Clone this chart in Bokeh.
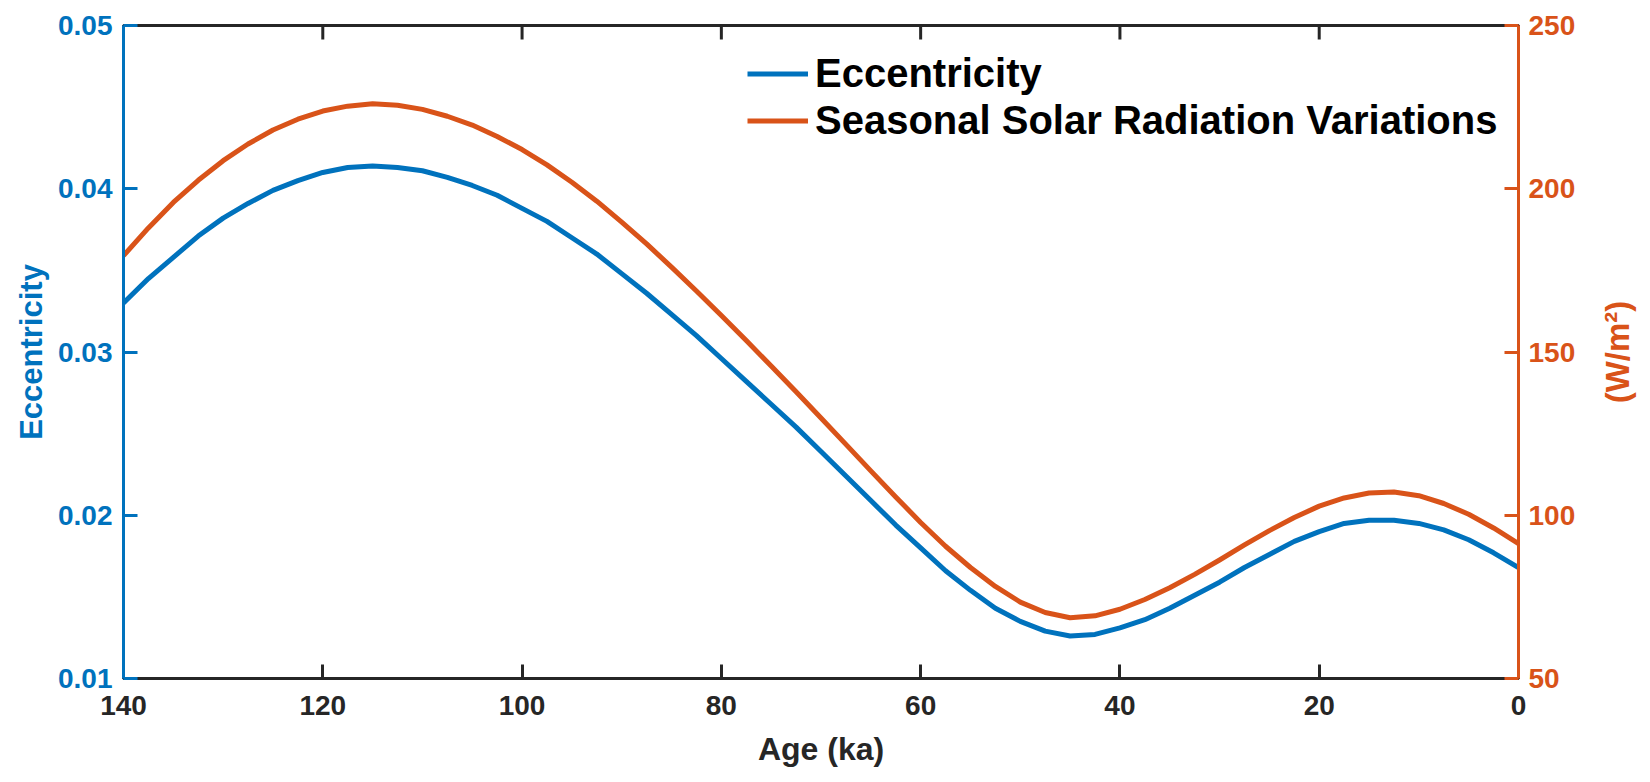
import math
from bokeh.plotting import figure
from bokeh.models import (Range1d, LinearAxis, FixedTicker, Label, ColumnDataSource)
from bokeh.embed import file_html
from bokeh.resources import INLINE

# ---- data ----
age = [140, 137.5, 135, 132.5, 130, 127.5, 125, 122.5, 120, 117.5, 115, 112.5,
       110, 107.5, 105, 102.5, 100, 97.5, 95, 92.5, 90, 87.5, 85, 82.5, 80, 77.5,
       75, 72.5, 70, 67.5, 65, 62.5, 60, 57.5, 55, 52.5, 50, 47.5, 45, 42.5, 40,
       37.5, 35, 32.5, 30, 27.5, 25, 22.5, 20, 17.5, 15, 12.5, 10, 7.5, 5, 2.5, 0]
eccentricity = [0.0330, 0.0345, 0.0358, 0.0371, 0.0382, 0.0391, 0.0399, 0.0405,
                0.0410, 0.0413, 0.0414, 0.0413, 0.0411, 0.0407, 0.0402, 0.0396,
                0.0388, 0.0380, 0.0370, 0.0360, 0.0348, 0.0336, 0.0323, 0.0310,
                0.0296, 0.0282, 0.0268, 0.0254, 0.0239, 0.0224, 0.0209, 0.0194,
                0.0180, 0.0166, 0.0154, 0.0143, 0.0135, 0.0129, 0.0126, 0.0127,
                0.0131, 0.0136, 0.0143, 0.0151, 0.0159, 0.0168, 0.0176, 0.0184,
                0.0190, 0.0195, 0.0197, 0.0197, 0.0195, 0.0191, 0.0185, 0.0177,
                0.0168]
solar = [179.5, 188.0, 195.8, 202.6, 208.6, 213.7, 218.0, 221.3, 223.8, 225.3,
         226.0, 225.6, 224.3, 222.2, 219.5, 216.0, 212.0, 207.3, 202.0, 196.2,
         189.8, 183.1, 176.0, 168.7, 161.2, 153.5, 145.7, 137.8, 129.8, 121.7,
         113.6, 105.6, 97.8, 90.5, 84.0, 78.2, 73.4, 70.2, 68.6, 69.2, 71.2,
         74.2, 77.8, 81.9, 86.3, 90.9, 95.3, 99.3, 102.8, 105.3, 106.8, 107.1,
         106.0, 103.6, 100.3, 96.1, 91.3]

x_ticks = [0, 20, 40, 60, 80, 100, 120, 140]
ecc_ticks = [0.01, 0.02, 0.03, 0.04, 0.05]
ecc_tick_labels = ["0.01", "0.02", "0.03", "0.04", "0.05"]
solar_ticks = [50, 100, 150, 200, 250]

BLUE = "#0072BD"
ORANGE = "#D95319"
DARK = "#262626"
FONT = "Liberation Sans"

FRAME_W = 1395
FRAME_H = 653
TICK_LEN = 14

p = figure(width=1640, height=776, output_backend="svg", toolbar_location=None,
           x_range=Range1d(140, 0), y_range=Range1d(0.01, 0.05),
           min_border_left=123, min_border_right=122, min_border_top=25,
           min_border_bottom=98)
p.extra_y_ranges = {"solar": Range1d(50, 250)}
p.grid.visible = False
p.outline_line_color = DARK
p.outline_line_width = 3
p.background_fill_color = "white"

src = ColumnDataSource(dict(age=age, ecc=eccentricity, solar=solar))
p.line("age", "ecc", source=src, color=BLUE, line_width=5,
       line_join="round", legend_label="Eccentricity")
p.line("age", "solar", source=src, color=ORANGE, line_width=5,
       line_join="round", y_range_name="solar",
       legend_label="Seasonal Solar Radiation Variations")

# inward ticks along the top edge of the box
y_end = p.y_range.end
tick_span = (p.y_range.end - p.y_range.start) * TICK_LEN / FRAME_H
p.segment(x0=x_ticks, y0=[y_end] * len(x_ticks), x1=x_ticks,
          y1=[y_end - tick_span] * len(x_ticks), line_color=DARK, line_width=3)

def style_axis(ax, color, text_color):
    ax.axis_line_color = color
    ax.axis_line_width = 3
    ax.major_tick_line_color = color
    ax.major_tick_line_width = 3
    ax.major_tick_in = TICK_LEN
    ax.major_tick_out = 0
    ax.minor_tick_line_color = None
    ax.major_label_text_font = FONT
    ax.major_label_text_font_style = "bold"
    ax.major_label_text_font_size = "28px"
    ax.major_label_text_color = text_color
    ax.axis_label_text_font = FONT
    ax.axis_label_text_font_style = "bold"
    ax.axis_label_text_font_size = "31px"
    ax.axis_label_text_color = text_color

# bottom axis
xax = p.xaxis[0]
xax.ticker = FixedTicker(ticks=x_ticks)
style_axis(xax, DARK, DARK)
xax.axis_label = "Age (ka)"
xax.major_label_standoff = 17
xax.axis_label_standoff = 13
xax.axis_label_text_font_size = "32px"

# left axis
yax = p.yaxis[0]
yax.ticker = FixedTicker(ticks=ecc_ticks)
yax.major_label_overrides = {t: s for t, s in zip(ecc_ticks, ecc_tick_labels)}
style_axis(yax, BLUE, BLUE)
yax.axis_label = "Eccentricity"
yax.major_label_standoff = 11
yax.axis_label_standoff = 6

# right axis (ticks + labels)
rax = LinearAxis(y_range_name="solar", ticker=FixedTicker(ticks=solar_ticks))
style_axis(rax, ORANGE, ORANGE)
rax.major_label_standoff = 10
p.add_layout(rax, "right")

# right axis title, reading bottom to top, centred on the box height
# (placed in the right-hand side panel so it is not clipped by the frame)
x_span = p.x_range.start - p.x_range.end
title_x = p.x_range.end - x_span * 99 / FRAME_W
title_y = (p.y_range.start + p.y_range.end) / 2
p.add_layout(Label(x=title_x, y=title_y, text="(W/m²)",
                   angle=math.pi / 2, text_align="center", text_baseline="middle",
                   text_font=FONT, text_font_style="bold", text_font_size="33px",
                   text_color=ORANGE), "right")

# legend
lg = p.legend[0]
lg.location = (624, 534)
lg.border_line_color = None
lg.background_fill_alpha = 0
lg.padding = 0
lg.margin = 0
lg.spacing = 0
lg.label_height = 47
lg.glyph_height = 47
lg.glyph_width = 61
lg.label_standoff = 7
lg.label_text_font = FONT
lg.label_text_font_style = "bold"
lg.label_text_font_size = "40px"
lg.label_text_color = "black"

open("out.html", "w").write(file_html(p, INLINE))
